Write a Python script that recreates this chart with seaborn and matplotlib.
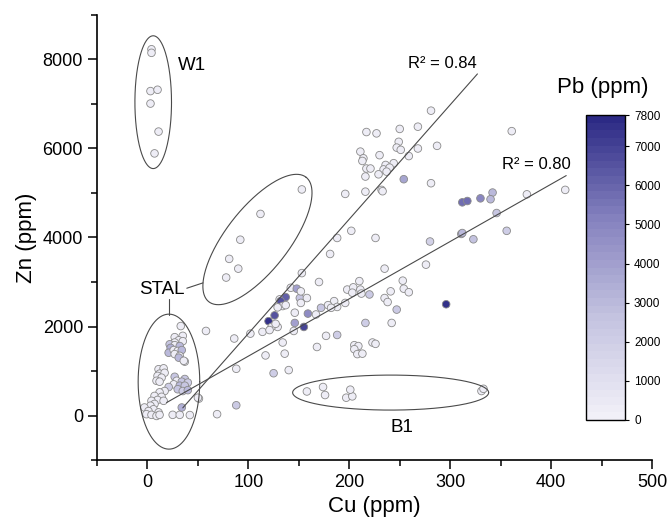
import numpy as np
import pandas as pd
import matplotlib
matplotlib.use('Agg')
import matplotlib.pyplot as plt
import seaborn as sns
from matplotlib.colors import LinearSegmentedColormap, Normalize
from matplotlib.cm import ScalarMappable
from matplotlib.ticker import MultipleLocator

sns.set_style('ticks')
plt.rcParams['font.family'] = ['Liberation Sans', 'DejaVu Sans']
plt.rcParams['text.color'] = 'black'
plt.rcParams['axes.labelcolor'] = 'black'
plt.rcParams['xtick.color'] = 'black'
plt.rcParams['ytick.color'] = 'black'
plt.rcParams['axes.edgecolor'] = 'black'

# ── samples: Cu, Zn, Pb (ppm) ──────────────────────────────
cu = [
    # W1
    4, 4, 3, 10, 3, 11, 7,
    # middle ellipse
    153, 112, 92, 81, 90, 78,
    # upper cluster
    281, 217, 227, 250, 268, 361, 249, 247, 251, 268, 287, 259, 211, 214, 213, 230,
    217, 221, 236, 244, 234, 240, 237, 229, 216, 254, 281, 216, 232, 233, 196,
    # mid
    202, 188, 226, 280, 181, 276, 235, 153, 170, 253, 210,
    # right group
    312, 317, 330, 342, 340, 346, 311, 312, 323, 356, 376, 414,
    # lower middle
    198, 204, 203, 211, 212, 220, 241, 254, 259, 235, 238, 247, 296, 216, 242, 177,
    188, 168, 205, 209, 205, 208, 213, 223, 226, 196, 185, 188, 179, 182, 172, 167,
    159, 155, 151,
    # near line crossing
    142, 148, 152, 158, 152, 131, 137, 132, 134, 129, 137, 146, 146, 126, 120, 129,
    123, 127, 114, 121, 102, 86, 58, 145, 134, 117, 136, 88, 125, 140, 51, 69, 88,
    # B1
    158, 174, 176, 197, 203, 201, 331, 333,
    # STAL
    33, 27, 35, 31, 35, 27, 22, 27, 23, 32, 21, 26, 30, 34, 27, 32, 31, 37, 36,
    11, 16, 12, 10, 17, 14, 9, 12,
    27, 37, 29, 34, 40, 26, 32, 37, 21, 30, 35, 40,
    17, 12, 7, 14, 10, 4, 16, 7, 3, -3, 6, 1, 11, -1, 4, 9, 12, 25, 32, 42, 34, 50,
]
zn = [
    8230, 8150, 7290, 7320, 7010, 6380, 5890,
    5080, 4530, 3950, 3520, 3300, 3100,
    6850, 6370, 6340, 6440, 6490, 6390, 6150, 6020, 5970, 6000, 6060, 5830, 5930, 5780, 5720, 5850,
    5550, 5550, 5630, 5670, 5530, 5570, 5480, 5420, 5370, 5310, 5220, 5030, 5070, 5040, 4980,
    4150, 3990, 3990, 3910, 3630, 3390, 3300, 3200, 3000, 3030, 3020,
    4790, 4820, 4880, 5010, 4860, 4550, 4080, 4100, 3960, 4150, 4970, 5070,
    2830, 2880, 2760, 2830, 2740, 2720, 2790, 2850, 2770, 2640, 2550, 2380, 2500, 2080, 2080, 1790,
    1810, 1540, 1580, 1560, 1490, 1380, 1390, 1640, 1610, 2530, 2570, 2440, 2480, 2420, 2420, 2270,
    2290, 1990, 2640,
    2870, 2850, 2790, 2640, 2530, 2610, 2660, 2570, 2460, 2430, 2480, 2310, 2080, 2250, 2120, 1990,
    1990, 2060, 1880, 1920, 1840, 1730, 1900, 1900, 1640, 1350, 1390, 1050, 950, 1020, 380, 30, 230,
    540, 640, 460, 400, 430, 580, 550, 600,
    2010, 1760, 1790, 1690, 1670, 1640, 1600, 1580, 1520, 1560, 1410, 1470, 1450, 1470, 1380, 1340, 1300, 1210, 1230,
    1040, 1060, 940, 890, 960, 850, 780, 760,
    870, 820, 780, 760, 740, 700, 670, 670, 640, 590, 550, 570,
    550, 520, 440, 420, 350, 330, 330, 260, 220, 180, 140, 100, 70, 30, 15, -10, 15, 15, 15, 10, 180, 400,
]
pb = [
    200, 200, 200, 200, 200, 200, 200,
    200, 200, 200, 200, 200, 200,
    200, 200, 200, 200, 200, 200, 200, 200, 200, 200, 200, 200, 200, 200, 200, 200,
    200, 200, 200, 200, 200, 200, 200, 200, 200, 3800, 200, 200, 200, 200, 200,
    200, 200, 200, 1800, 200, 200, 200, 200, 200, 200, 200,
    5800, 5800, 5000, 3000, 3000, 2500, 3200, 3000, 2600, 2000, 300, 300,
    200, 200, 200, 200, 200, 2300, 200, 200, 200, 200, 200, 2300, 7600, 2000, 200, 200,
    2000, 200, 200, 200, 200, 200, 200, 200, 200, 200, 200, 200, 200, 200, 2500, 200,
    4800, 7000, 2500,
    200, 4000, 200, 200, 200, 200, 6200, 6500, 200, 200, 200, 200, 4000, 6500, 7500, 200,
    200, 200, 200, 200, 200, 200, 200, 200, 200, 200, 200, 200, 2000, 200, 200, 200, 2200,
    200, 200, 200, 200, 200, 200, 200, 200,
    200, 200, 200, 200, 200, 200, 2500, 200, 3500, 3000, 3000, 200, 200, 3000, 200, 200, 3000, 200, 200,
    200, 200, 200, 200, 200, 200, 200, 200,
    2500, 2500, 200, 2500, 2000, 200, 3000, 2500, 2000, 2500, 2000, 3000,
    200, 200, 200, 200, 200, 200, 200, 200, 200, 200, 200, 200, 200, 200, 200, 200, 200, 200, 200, 200, 3500, 200,
]

# ── linear fits ─────────────────────────────────────────────
fit_x_start = [35, 19]
fit_x_end = [327, 415]
fit_slope = [25.7, 12.88]
fit_intercept = [-728, 46]
fit_label = ['R² = 0.84', 'R² = 0.80']
fit_label_pos = [(292, 7900), (385, 5640)]

# ── group ellipses: centre (data), semi-axes (px), angle (deg)
ell_name = ['W1', 'STAL', 'mid', 'B1']
ell_cx = [5.7, 21.3, 109, 241]
ell_cy = [7041, 761, 3955, 515]
ell_a = [18.3, 30.8, 79, 98]
ell_b = [66.4, 67.5, 31.4, 17.5]
ell_ang = [0, 0, 52, 0]

group_labels = ['W1', 'STAL', 'B1']
group_label_pos = [(44, 7875), (14, 2830), (252, -270)]

df = pd.DataFrame({'Cu': cu, 'Zn': zn, 'Pb': pb})

cmap = LinearSegmentedColormap.from_list(
    'pb', ['#F1F0F8', '#C4C3E0', '#8481BE', '#2C2A85'], N=40)
norm = Normalize(0, 7800)

fig = plt.figure(figsize=(6.67, 5.28), dpi=100)
ax = fig.add_axes([97 / 667, 1 - 460 / 528, 555 / 667, 445 / 528])

sns.scatterplot(data=df, x='Cu', y='Zn', hue='Pb', palette=cmap, hue_norm=norm,
                s=30, edgecolor='#8a8a8a', linewidth=0.6, legend=False, ax=ax, zorder=2)

ax.set_xlim(-50, 500)
ax.set_ylim(-1000, 9000)

# regression lines
for x0, x1, m, b in zip(fit_x_start, fit_x_end, fit_slope, fit_intercept):
    xs = np.array([x0, x1])
    ax.plot(xs, m * xs + b, color='#4a4a4a', lw=0.8, zorder=3)
for txt, (tx, ty) in zip(fit_label, fit_label_pos):
    ax.text(tx, ty, txt, fontsize=12, ha='center', va='center')

# ellipses (drawn in pixel space then mapped back to data)
bbox = ax.get_window_extent()
px_cu = bbox.width / 550
px_zn = bbox.height / 10000
t = np.linspace(0, 2 * np.pi, 300)
for cx, cy, a, b, ang in zip(ell_cx, ell_cy, ell_a, ell_b, ell_ang):
    th = np.deg2rad(ang)
    dx = a * np.cos(t) * np.cos(th) - b * np.sin(t) * np.sin(th)
    dy = a * np.cos(t) * np.sin(th) + b * np.sin(t) * np.cos(th)
    ax.plot(cx + dx / px_cu, cy + dy / px_zn, color='#4a4a4a', lw=0.8, zorder=3)

for txt, (tx, ty) in zip(group_labels, group_label_pos):
    ax.text(tx, ty, txt, fontsize=13.5, ha='center', va='center')

# STAL leaders
ax.plot([39, 55], [2860, 2980], color='#4a4a4a', lw=0.8)
ax.plot([21.6, 21.6], [2610, 2250], color='#4a4a4a', lw=0.8)

ax.xaxis.set_major_locator(MultipleLocator(100))
ax.xaxis.set_minor_locator(MultipleLocator(50))
ax.set_yticks([0, 2000, 4000, 6000, 8000])
ax.yaxis.set_minor_locator(MultipleLocator(1000))
ax.tick_params(which='major', length=6.5, width=1.1, labelsize=13)
ax.tick_params(which='minor', length=4, width=1.1)
for s in ['top', 'right']:
    ax.spines[s].set_visible(False)
for s in ['left', 'bottom']:
    ax.spines[s].set_linewidth(1.2)
ax.set_xlabel('Cu (ppm)', fontsize=16, labelpad=4)
ax.set_ylabel('Zn (ppm)', fontsize=16, labelpad=4)

# colour bar
cax = fig.add_axes([586 / 667, 1 - 420 / 528, 39 / 667, 305 / 528])
cb = fig.colorbar(ScalarMappable(norm=norm, cmap=cmap), cax=cax,
                  ticks=[0, 1000, 2000, 3000, 4000, 5000, 6000, 7000, 7800])
cb.outline.set_linewidth(1.0)
cax.tick_params(labelsize=8.5, length=3, width=0.8)
fig.text(603 / 667, 1 - 88 / 528, 'Pb (ppm)', fontsize=16, ha='center', va='center')

fig.savefig('out.png', dpi=100)
